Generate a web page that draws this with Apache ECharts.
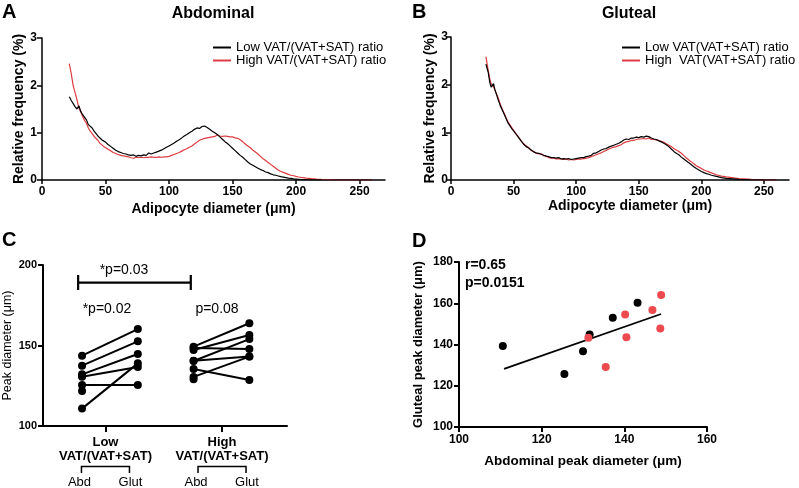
<!DOCTYPE html>
<html><head><meta charset="utf-8">
<script src="https://cdn.jsdelivr.net/npm/echarts@6/dist/echarts.min.js"></script>
<style>html,body{margin:0;padding:0;background:#fff}#c{width:799px;height:488px}</style>
</head><body><div id="c"></div><script>
// ---------- Panel A (Abdominal) ----------
const xA = [21.5,23,24.5,26,27.5,29,30.5,32,33.5,35,36.5,38,39.5,41,42.5,44,45.5,47,48.5,50,
  52,54,56,58,60,62,64,66,68,70,72,74,76,78,80,82,84,86,88,90,92,94,96,98,100,
  102,104,106,108,110,112,114,116,118,120,122,124,126,128,130,132,134,136,138,140,
  142,144,146,148,150,152,154,156,158,160,162,164,166,168,170,172,174,176,178,180,
  182,184,186,188,190,192,194,196,198,200,202,204,208,212,216,220,230,245,260];
const abdLow = [1.76,1.68,1.70,1.55,1.50,1.57,1.45,1.38,1.36,1.27,1.17,1.15,1.10,1.03,1.00,0.93,0.89,0.85,0.82,0.80,
  0.75,0.71,0.67,0.63,0.60,0.58,0.56,0.55,0.53,0.52,
  0.53,0.50,0.52,0.51,0.53,0.52,0.57,0.55,0.57,0.59,
  0.61,0.63,0.66,0.69,0.72,0.75,0.78,0.82,0.85,0.89,
  0.93,0.96,1.00,1.03,1.07,1.10,1.09,1.13,1.14,1.11,
  1.07,1.03,1.00,0.96,0.91,0.86,0.81,0.77,0.72,0.67,
  0.62,0.57,0.52,0.48,0.43,0.38,0.34,0.31,0.28,0.25,
  0.22,0.20,0.17,0.155,0.13,0.11,0.10,0.085,0.07,0.06,
  0.05,0.04,0.035,0.025,0.02,0.015,0.01,
  0.006,0.004,0.002,0.001,0,0,0];
const abdHigh = [2.46,2.25,2.00,1.85,1.70,1.52,1.44,1.34,1.26,1.20,1.10,1.03,0.98,0.92,0.89,0.84,0.78,0.75,0.71,0.69,
  0.65,0.62,0.58,0.56,0.54,0.52,0.51,0.50,0.49,0.47,
  0.46,0.48,0.47,0.48,0.47,0.48,0.48,0.49,0.48,0.48,
  0.49,0.48,0.49,0.49,0.50,0.52,0.54,0.56,0.58,0.61,
  0.64,0.66,0.69,0.72,0.76,0.80,0.84,0.86,0.88,0.89,
  0.90,0.91,0.92,0.95,0.93,0.92,0.93,0.92,0.91,0.91,
  0.89,0.88,0.85,0.81,0.76,0.72,0.68,0.63,0.59,0.55,
  0.50,0.45,0.41,0.37,0.33,0.29,0.25,0.21,0.18,0.16,
  0.14,0.12,0.10,0.09,0.075,0.063,0.055,
  0.04,0.028,0.018,0.012,0.004,0,0];

// ---------- Panel B (Gluteal) ----------
const xB = [27.9,29.7,31,32,33,34,35,36.5,38,39.5,41,42.5,44,45.5,47,48.5,50,
  52,54,56,58,60,62,64,66,68,70,72,74,76,78,80,82,84,86,88,90,92,94,96,98,100,
  102,104,106,108,110,112,114,116,118,120,122,124,126,128,130,132,134,136,138,140,
  142,144,146,148,150,152,154,156,158,160,162,164,166,168,170,172,174,176,178,180,
  182,184,186,188,190,192,194,196,198,200,202,204,206,208,212,216,220,230,240,250,260];
const gluLow = [2.43,2.26,2.05,1.95,1.93,2.02,1.90,1.78,1.66,1.55,1.47,1.38,1.29,1.20,1.14,1.08,1.03,
  0.96,0.89,0.82,0.75,0.70,0.67,0.63,0.59,0.57,0.56,
  0.54,0.52,0.50,0.49,0.47,0.47,0.46,0.47,0.44,0.45,
  0.44,0.45,0.43,0.44,0.45,0.46,0.47,0.47,0.49,0.50,
  0.52,0.56,0.57,0.60,0.63,0.65,0.66,0.69,0.71,0.73,
  0.75,0.77,0.80,0.84,0.86,0.85,0.88,0.88,0.90,0.89,
  0.91,0.90,0.92,0.91,0.88,0.86,0.85,0.82,0.80,0.77,
  0.74,0.70,0.65,0.60,0.56,0.53,0.48,0.44,0.40,0.36,
  0.32,0.28,0.24,0.21,0.18,0.155,0.135,0.12,0.10,
  0.075,0.05,0.035,0.015,0.005,0.001,0];
const gluHigh = [2.59,2.30,2.12,2.02,1.98,1.95,1.93,1.80,1.70,1.58,1.48,1.40,1.30,1.22,1.16,1.10,1.04,
  0.97,0.90,0.82,0.76,0.72,0.68,0.62,0.60,0.56,0.55,
  0.55,0.51,0.50,0.47,0.46,0.46,0.44,0.45,0.44,0.43,
  0.44,0.42,0.43,0.42,0.43,0.44,0.44,0.45,0.46,0.47,
  0.49,0.51,0.53,0.55,0.57,0.60,0.62,0.65,0.67,0.69,
  0.70,0.72,0.74,0.78,0.80,0.81,0.83,0.83,0.85,0.86,
  0.86,0.87,0.86,0.88,0.85,0.85,0.84,0.83,0.81,0.79,
  0.76,0.73,0.70,0.66,0.63,0.60,0.56,0.51,0.46,0.42,
  0.38,0.34,0.30,0.27,0.24,0.21,0.19,0.17,0.15,
  0.11,0.08,0.065,0.03,0.012,0.004,0];
const curveTicks = [0, 50, 100, 150, 200, 250];

// ---------- Panel C (peak diameters, paired) ----------
const cGroups = ['Low', 'High'];
const cLowAbd  = [143.7, 137.5, 132.1, 130.6, 125.5, 110.8, 121.7];
const cLowGlut = [160.2, 152.6, 144.7, 136.6, 125.5, 138.9, null];
const cHighAbd  = [149.3, 148.5, 147.2, 140.4, 140.6, 135.4, 130.5, 129.0];
const cHighGlut = [163.8, 147.8, 156.5, 154.0, 143.1, 128.6, 143.1, null];
const cSigBarY = 189;

// ---------- Panel D (correlation) ----------
const dLowX  = [110.6, 125.5, 130.0, 131.6, 137.2, 143.2];
const dLowY  = [139.3, 125.7, 136.7, 144.9, 153.0, 160.3];
const dHighX = [131.3, 135.5, 140.2, 140.5, 146.8, 148.9, 148.7];
const dHighY = [143.3, 129.1, 154.5, 143.5, 156.7, 164.0, 147.8];
const dFitX = [110.9, 148.9];
const dFitY = [128.2, 154.8];

// ---------- chart ----------
const FONT = '"Liberation Sans", Arial, Helvetica, sans-serif';
const RED = '#dd3b40';
const RED_DOT = '#ec4a4e';
const pairs = (xs, ys) => xs.map((x, i) => [x, ys[i]]);
const chart = echarts.init(document.getElementById('c'), null, {renderer: 'canvas'});

function axisBase(lw) {
  return {
    axisLine: {show: true, onZero: false, lineStyle: {color: '#000', width: lw}},
    axisTick: {show: true, length: 5, lineStyle: {color: '#000', width: lw}},
    splitLine: {show: false},
    nameTextStyle: {color: '#000', fontFamily: FONT}
  };
}
function lbl(size, extra) {
  return Object.assign({color: '#000', fontSize: size, fontWeight: 'bold', fontFamily: FONT}, extra || {});
}

const nameA = ['Low VAT/(VAT+SAT) ratio', 'High VAT/(VAT+SAT) ratio'];
const nameB = ['Low VAT(VAT+SAT) ratio', 'High  VAT(VAT+SAT) ratio'];
const cTickPos = [0.42, 2.51];

const series = [
  {name: nameA[0], type: 'line', xAxisIndex: 0, yAxisIndex: 0, data: pairs(xA, abdLow), showSymbol: false, symbol: 'none', color: '#000', lineStyle: {width: 1.2}, z: 3},
  {name: nameA[1], type: 'line', xAxisIndex: 0, yAxisIndex: 0, data: pairs(xA, abdHigh), showSymbol: false, symbol: 'none', color: RED, lineStyle: {width: 1.2}, z: 2},
  {name: nameB[0], type: 'line', xAxisIndex: 1, yAxisIndex: 1, data: pairs(xB, gluLow), showSymbol: false, symbol: 'none', color: '#000', lineStyle: {width: 1.2}, z: 3},
  {name: nameB[1], type: 'line', xAxisIndex: 1, yAxisIndex: 1, data: pairs(xB, gluHigh), showSymbol: false, symbol: 'none', color: RED, lineStyle: {width: 1.2}, z: 2}
];

// Panel C: paired lines + dots
const cPoints = [];
[[cLowAbd, cLowGlut, 0], [cHighAbd, cHighGlut, 2]].forEach(([abd, glut, col]) => {
  abd.forEach((v, i) => {
    cPoints.push([col, v]);
    if (glut[i] != null) {
      cPoints.push([col + 1, glut[i]]);
      series.push({type: 'line', xAxisIndex: 2, yAxisIndex: 2, data: [[col, v], [col + 1, glut[i]]],
        symbol: 'none', color: '#000', lineStyle: {width: 2, color: '#000'}, silent: true});
    }
  });
});
series.push({type: 'scatter', xAxisIndex: 2, yAxisIndex: 2, data: cPoints, symbol: 'circle', symbolSize: 8, itemStyle: {color: '#000', opacity: 1}, z: 4});
// significance bar between Low and High Abd columns
series.push({type: 'line', xAxisIndex: 2, yAxisIndex: 2, symbol: 'none', color: '#000', lineStyle: {width: 2.2, color: '#000'},
  data: [[-0.07, cSigBarY + 4.8], [-0.07, cSigBarY - 4.6], [-0.07, cSigBarY], [1.95, cSigBarY], [1.95, cSigBarY + 4.8], [1.95, cSigBarY - 4.6]]});

// Panel D
series.push({type: 'line', xAxisIndex: 3, yAxisIndex: 3, data: pairs(dFitX, dFitY), symbol: 'none', color: '#000', lineStyle: {width: 1.8, color: '#000'}, z: 2});
series.push({type: 'scatter', xAxisIndex: 3, yAxisIndex: 3, data: pairs(dLowX, dLowY), symbol: 'circle', symbolSize: 8, itemStyle: {color: '#000', opacity: 1}, z: 3});
series.push({type: 'scatter', xAxisIndex: 3, yAxisIndex: 3, data: pairs(dHighX, dHighY), symbol: 'circle', symbolSize: 8, itemStyle: {color: RED_DOT, opacity: 1}, z: 4});

const option = {
  animation: false,
  backgroundColor: '#fff',
  textStyle: {fontFamily: FONT},
  grid: [
    {left: 42, top: 38, width: 343, height: 142},
    {left: 451, top: 37, width: 338, height: 143},
    {left: 42, top: 265, width: 245, height: 161},
    {left: 459, top: 262, width: 248, height: 165}
  ],
  legend: [
    {data: nameA, left: 208, top: 36, orient: 'vertical', icon: 'rect', itemWidth: 18, itemHeight: 2, itemGap: 0,
      textStyle: {fontSize: 13, color: '#000', fontFamily: FONT}, selectedMode: false},
    {data: nameB, left: 617, top: 36, orient: 'vertical', icon: 'rect', itemWidth: 18, itemHeight: 2, itemGap: 0,
      textStyle: {fontSize: 13, color: '#000', fontFamily: FONT}, selectedMode: false}
  ],
  xAxis: [
    Object.assign(axisBase(1.5), {gridIndex: 0, type: 'value', min: 0, max: 270,
      axisTick: {show: true, length: 4, customValues: curveTicks, lineStyle: {color: '#000', width: 1.5}},
      axisLabel: lbl(12, {customValues: curveTicks, margin: 6}),
      name: 'Adipocyte diameter (μm)', nameLocation: 'middle', nameGap: 22,
      nameTextStyle: {color: '#000', fontSize: 14, fontWeight: 'bold', fontFamily: FONT}}),
    Object.assign(axisBase(1.5), {gridIndex: 1, type: 'value', min: 0, max: 270,
      axisTick: {show: true, length: 4, customValues: curveTicks, lineStyle: {color: '#000', width: 1.5}},
      axisLabel: lbl(12, {customValues: curveTicks, margin: 6}),
      name: 'Adipocyte diameter (μm)', nameLocation: 'middle', nameGap: 19,
      nameTextStyle: {color: '#000', fontSize: 14, fontWeight: 'bold', fontFamily: FONT, padding: [0, 0, 0, 20]}}),
    Object.assign(axisBase(2), {gridIndex: 2, type: 'value', min: -0.7, max: 3.675,
      axisTick: {show: true, length: 6, customValues: cTickPos, lineStyle: {color: '#000', width: 2}},
      axisLabel: lbl(13, {customValues: cTickPos, margin: 9, lineHeight: 14,
        formatter: v => (v < 1.5 ? cGroups[0] : cGroups[1]) + '\nVAT/(VAT+SAT)'})}),
    Object.assign(axisBase(2), {gridIndex: 3, type: 'value', min: 100, max: 160, interval: 20,
      axisLabel: lbl(12, {margin: 7}),
      name: 'Abdominal peak diameter (μm)', nameLocation: 'middle', nameGap: 27,
      nameTextStyle: {color: '#000', fontSize: 13.5, fontWeight: 'bold', fontFamily: FONT}})
  ],
  yAxis: [
    Object.assign(axisBase(1.5), {gridIndex: 0, type: 'value', min: 0, max: 3, interval: 1,
      axisLabel: lbl(12, {margin: 5}),
      name: 'Relative frequency (%)', nameLocation: 'middle', nameGap: 16,
      nameTextStyle: {color: '#000', fontSize: 14, fontWeight: 'bold', fontFamily: FONT}}),
    Object.assign(axisBase(1.5), {gridIndex: 1, type: 'value', min: 0, max: 3, interval: 1,
      axisLabel: lbl(12, {margin: 3}),
      name: 'Relative frequency (%)', nameLocation: 'middle', nameGap: 7,
      nameTextStyle: {color: '#000', fontSize: 14, fontWeight: 'bold', fontFamily: FONT}}),
    Object.assign(axisBase(2), {gridIndex: 2, type: 'value', min: 100, max: 200, interval: 50,
      axisLabel: lbl(11, {margin: 6}),
      name: 'Peak diameter (μm)', nameLocation: 'middle', nameGap: 29,
      nameTextStyle: {color: '#000', fontSize: 12.5, fontFamily: FONT}}),
    Object.assign(axisBase(2), {gridIndex: 3, type: 'value', min: 100, max: 180, interval: 20,
      axisLabel: lbl(12, {margin: 6}),
      name: 'Gluteal peak diameter (μm)', nameLocation: 'middle', nameGap: 34,
      nameTextStyle: {color: '#000', fontSize: 13, fontWeight: 'bold', fontFamily: FONT}})
  ],
  series: series
};
chart.setOption(option);

// Decorations: panel letters, titles, annotations, brackets
const txt = (x, y, text, size, weight, align) => ({type: 'text', x: x, y: y, silent: true,
  style: {text: text, fill: '#000', font: (weight || 'normal') + ' ' + size + 'px ' + FONT,
    textAlign: align || 'left', textVerticalAlign: 'middle'}});
const g = [
  txt(2, 12, 'A', 20, 'bold'), txt(412, 12, 'B', 20, 'bold'),
  txt(2, 240, 'C', 20, 'bold'), txt(412, 241, 'D', 20, 'bold'),
  txt(213, 14, 'Abdominal', 16, 'bold', 'center'), txt(629, 14, 'Gluteal', 16, 'bold', 'center'),
  txt(124, 270, '*p=0.03', 14, 'normal', 'center'),
  txt(107, 309, '*p=0.02', 14, 'normal', 'center'),
  txt(217, 309, 'p=0.08', 14, 'normal', 'center'),
  txt(465, 265, 'r=0.65', 14, 'bold'), txt(465, 283, 'p=0.0151', 14, 'bold')
];
cTickPos.forEach(v => {
  const t = chart.convertToPixel({xAxisIndex: 2}, v);
  g.push({type: 'polyline', silent: true, shape: {points: [[t - 24, 473], [t - 24, 466.5], [t + 24, 466.5], [t + 24, 473]]},
    style: {stroke: '#000', lineWidth: 1.5, fill: null}});
  g.push(txt(t - 26, 482, 'Abd', 13, 'normal', 'center'));
  g.push(txt(t + 25, 482, 'Glut', 13, 'normal', 'center'));
});
chart.setOption({graphic: {elements: g}});
</script></body></html>
